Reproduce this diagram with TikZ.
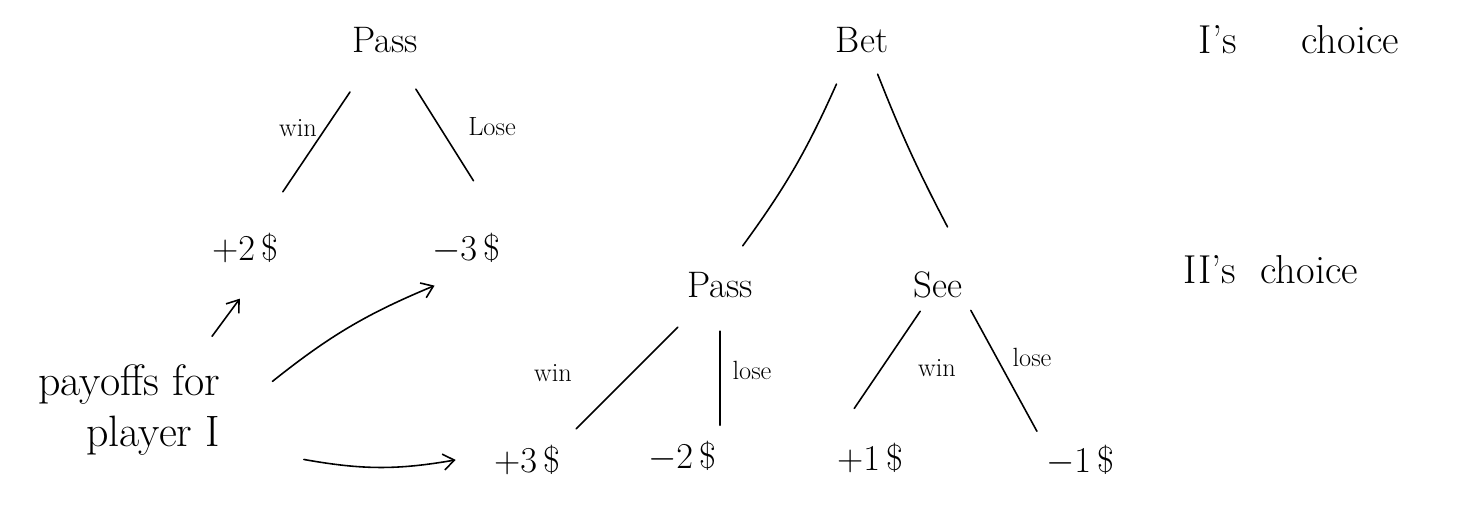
\documentclass[tikz,border=0pt]{standalone}
\usepackage{tikz}
\usetikzlibrary{arrows.meta,calc,positioning}
\tikzset{
    every picture/.style={line cap=round,line join=round},
    choice/.style={inner sep=2pt,font=\fontsize{21}{25}\selectfont},
    payoff/.style={inner sep=2pt,font=\fontsize{21}{25}\selectfont},
    outcome/.style={inner sep=1pt,font=\fontsize{15}{18}\selectfont},
    branch/.style={draw=black,line width=0.9pt},
    pointer/.style={-{Straight Barb[length=2.2mm,width=3.2mm]},draw=black,
      line width=0.9pt}
}

\begin{document}
\begin{tikzpicture}[x=0.02cm,y=-0.02cm]
    \useasboundingbox (0,0) rectangle (1462,508);
    % I's move
    \node[choice] (pass) at (385,40) {Pass};
    \node[choice] (bet) at (862,40) {Bet};
    \node[choice,anchor=west,font=\fontsize{23}{27}\selectfont] (firstmove) at (1195,40) {I's \quad\ choice};
    % payoffs after pass
    \node[payoff] (plustwo) at (245,248) {$+2\,\$$};
    \node[payoff] (minusthree) at (466,248) {$-3\,\$$};
    % II's move
    \node[choice] (passII) at (720,285) {Pass};
    \node[choice] (see) at (938,285) {See};
    \node[choice,anchor=west,font=\fontsize{23}{27}\selectfont] (secondmove) at (1180,270) {II's \ choice};
    % payoffs after bet
    \node[payoff] (plusthree) at (527,460) {$+3\,\$$};
    \node[payoff] (minustwo) at (682,456) {$-2\,\$$};
    \node[payoff] (plusone) at (870,458) {$+1\,\$$};
    \node[payoff] (minusone) at (1080,460) {$-1\,\$$};
    \node[choice,align=right,anchor=east,font=\fontsize{25}{29}\selectfont] (payoffs) at (224,410) {payoffs for\\player I};
    % branches
    \draw[branch] ($(pass)!.25!(plustwo)$) -- ($(pass)!.73!(plustwo)$);
    \draw[branch] ($(pass)!.26!(minusthree.north east)$) -- ($(pass)!.745!(minusthree.north east)$);
    \draw[branch] ($(bet)!.18!(passII)$) to[bend left=6] ($(bet)!.84!(passII)$);
    \draw[branch] ($(bet)!.15!(see.north east)$) to[bend right=3] ($(bet)!.82!(see.north east)$);
    \draw[branch] ($(passII)!.27!(plusthree.north east)$) -- ($(passII)!.92!(plusthree.north east)$);
    \draw[branch] ($(passII)!.27!(passII |- minustwo)$) -- ($(passII)!.82!(passII |- minustwo)$);
    \draw[branch] ($(see)!.17!(plusone.north west)$) -- ($(see)!.8!(plusone.north west)$);
    \draw[branch] ($(see.south east)!.06!(minusone.north west)$) -- ($(see.south east)!.93!(minusone.north west)$);
    % outcome labels
    \node[outcome] (winI) at (298,128) {win};
    \node[outcome] (loseI) at (492,127) {Lose};
    \node[outcome] (winII) at (553,373) {win};
    \node[outcome] (loseII) at (752,370) {lose};
    \node[outcome] (winIII) at (937,368) {win};
    \node[outcome] (loseIII) at (1032,357) {lose};
    % pointers to the payoffs
    \draw[pointer] ($([xshift=-6mm]payoffs.north east)!.26!($(plustwo.south)!.5!(plustwo.south east)$)$) -- ($([xshift=-6mm]payoffs.north east)!.66!($(plustwo.south)!.5!(plustwo.south east)$)$);
    \draw[pointer] ($(payoffs.east)!.2!(minusthree.south)$) to[bend left=8] ($(payoffs.east)!.87!(minusthree.south)$);
    \draw[pointer] ($(payoffs.south east)!.3!(plusthree.west)$) to[bend right=10] ($(payoffs.south east)!.87!(plusthree.west)$);
\end{tikzpicture}
\end{document}
